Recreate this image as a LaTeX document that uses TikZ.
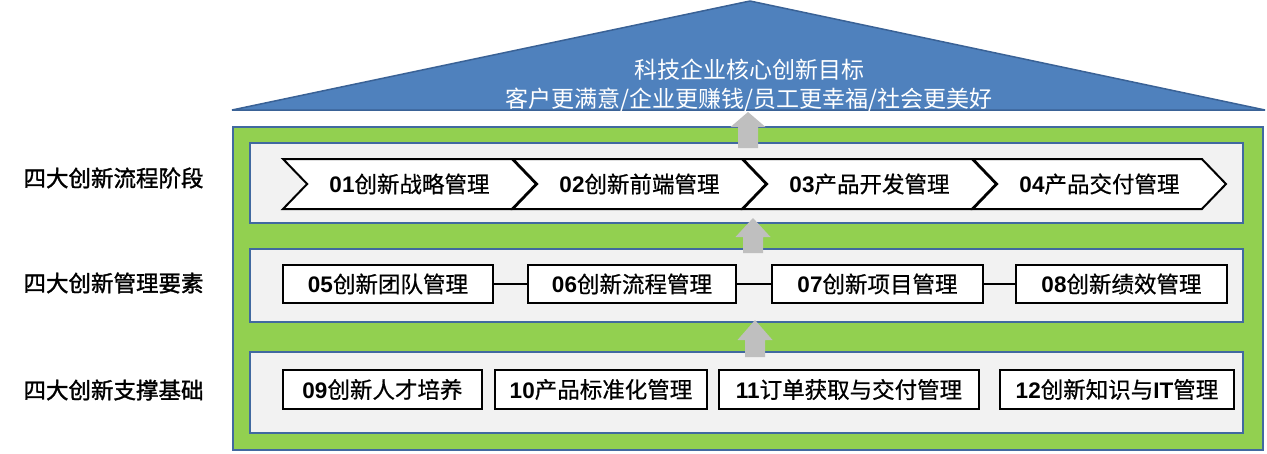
\documentclass[tikz,border=0pt]{standalone}
\usepackage{fontspec}
\setmainfont{Liberation Sans}
\newfontfamily\cjk{Noto Sans CJK SC}
\newfontfamily\cjkm{Noto Sans CJK SC}[FakeBold=0.6]
\newfontfamily\cjkb{Noto Sans CJK SC}[FakeBold=1.4]
\usetikzlibrary{shapes.symbols}
\definecolor{roofblue}{RGB}{79,129,189}
\definecolor{roofline}{RGB}{58,98,150}
\definecolor{housegreen}{RGB}{146,208,80}
\definecolor{frameblue}{RGB}{65,105,160}
\definecolor{panelgrey}{RGB}{242,242,242}
\definecolor{arrowgrey}{RGB}{191,191,191}
\def\greyarrow(#1,#2,#3,#4){\fill[arrowgrey] (#1,#2) -- (#1+17.5,#3) -- (#1+10,#3) -- (#1+10,#4) -- (#1-10,#4) -- (#1-10,#3) -- (#1-17.5,#3) -- cycle;}
\newcommand\lbl[2]{\textbf{#1}{\cjkm #2}}
\newcommand\bigtxt{\fontsize{22.5}{27}\selectfont}

\begin{document}
\begin{tikzpicture}[x=1pt,y=-1pt,
    chev/.style={signal, signal from=west, signal to=east, signal pointer angle=92,
      draw=black, line width=2pt, fill=white, minimum width=253pt, minimum height=50pt,
      inner sep=0pt, font=\bigtxt},
    sbox/.style={draw=black, line width=2.6pt, fill=white, inner sep=0pt, font=\bigtxt},
    panel/.style={fill=panelgrey, draw=frameblue, line width=1.8pt},
    side/.style={anchor=west, font=\bigtxt\cjkb},
    link/.style={line width=2pt}]
		\useasboundingbox (0,0) rectangle (1267,453);
		%%%%% ROOF %%%%%
		\draw[fill=roofblue, draw=roofline, line width=1.5pt, line join=bevel] (232,110) -- (750,1) -- (1265,110) -- cycle;
		\node[align=center, text=white, font=\fontsize{23}{29}\selectfont\cjk] (goal) at (749,85.5)
			{科技企业核心创新目标\\客户更满意/企业更赚钱/员工更幸福/社会更美好};
		
		%%%%% HOUSE %%%%%
		\draw[fill=housegreen, draw=frameblue, line width=2pt] (233,127) rectangle (1263,450);
		\draw[panel] (250,143) rectangle (1243,223);
		\draw[panel] (250,249) rectangle (1243,322);
		\draw[panel] (250,352) rectangle (1243,433);
		
		\greyarrow(748,112,127,148)
		\greyarrow(753,218,237,253)
		\greyarrow(755,320,340,357)
		
		%%%%% SIDE LABELS %%%%%
		\node[side] (s1) at (20,178) {四大创新流程阶段};
		\node[side] (s2) at (20,283) {四大创新管理要素};
		\node[side] (s3) at (20,390) {四大创新支撑基础};
		
		%%%%% STAGES %%%%%
		\node[chev] (p1) at (409.5,184) {\lbl{01}{创新战略管理}};
		\node[chev] (p2) at (639.5,184) {\lbl{02}{创新前端管理}};
		\node[chev] (p3) at (869.5,184) {\lbl{03}{产品开发管理}};
		\node[chev] (p4) at (1099.5,184) {\lbl{04}{产品交付管理}};
		
		%%%%% ELEMENTS %%%%%
		\node[sbox, minimum width=210pt, minimum height=38pt] (e5) at (388,284) {\lbl{05}{创新团队管理}};
		\node[sbox, minimum width=208pt, minimum height=38pt] (e6) at (632,284) {\lbl{06}{创新流程管理}};
		\node[sbox, minimum width=211pt, minimum height=38pt] (e7) at (877.5,284) {\lbl{07}{创新项目管理}};
		\node[sbox, minimum width=211pt, minimum height=38pt] (e8) at (1121.5,284) {\lbl{08}{创新绩效管理}};
		\draw[link] (e5) -- (e6);
		\draw[link] (e6) -- (e7);
		\draw[link] (e7) -- (e8);
		
		%%%%% BASE %%%%%
		\node[sbox, minimum width=199pt, minimum height=39pt] (b9) at (382.5,389.5) {\lbl{09}{创新人才培养}};
		\node[sbox, minimum width=212pt, minimum height=39pt] (b10) at (601,389.5) {\lbl{10}{产品标准化管理}};
		\node[sbox, minimum width=260pt, minimum height=39pt] (b11) at (849,389.5) {\lbl{11}{订单获取与交付管理}};
		\node[sbox, minimum width=234pt, minimum height=39pt] (b12) at (1117,389.5) {\lbl{12}{创新知识与}\textbf{IT}{\cjkm 管理}};
\end{tikzpicture}
\end{document}
